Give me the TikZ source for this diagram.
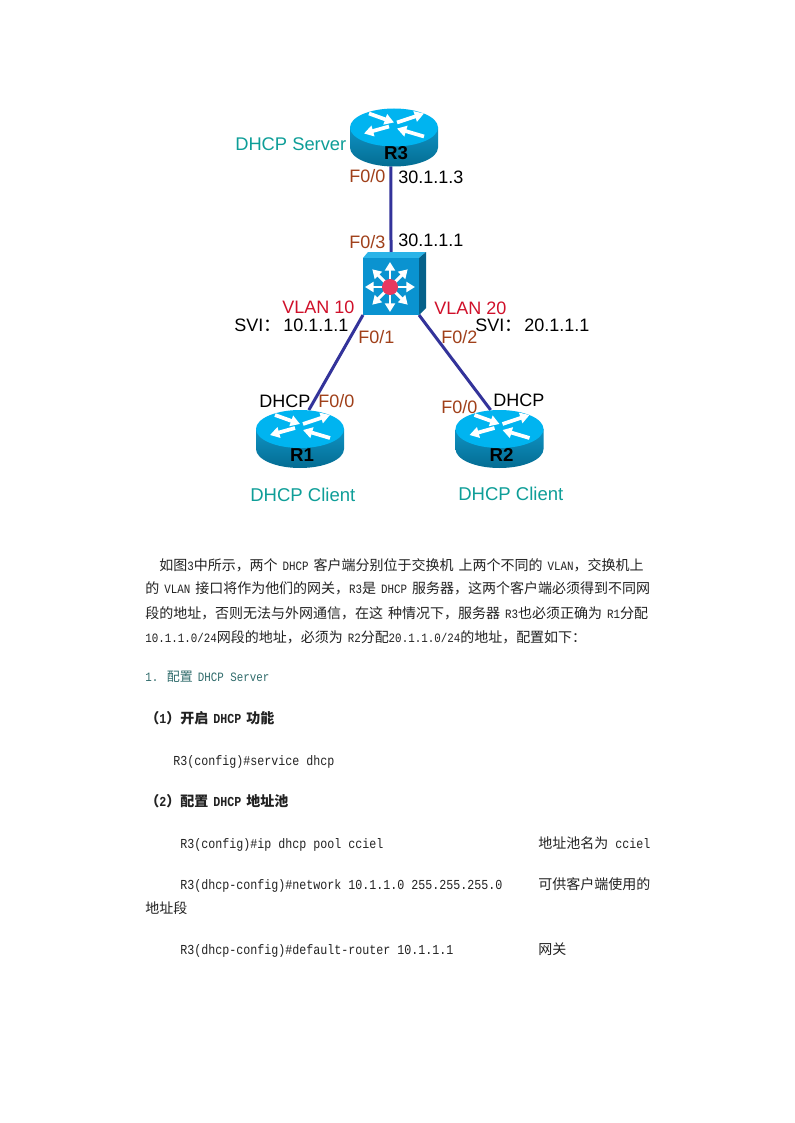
\documentclass[tikz,border=0pt]{standalone}
\usepackage{fontspec}
\setmainfont{Liberation Sans}
\newfontfamily\monofont{Liberation Mono}[FakeStretch=0.85]
\newfontfamily\cjkfont{Noto Sans CJK SC}[Scale=1.02]
\newfontfamily\cjkpara{Noto Sans CJK SC}[Scale=1.098]
\usetikzlibrary{positioning}
\usetikzlibrary{arrows.meta}
\definecolor{routertop}{HTML}{00B4F0}
\definecolor{routerhi}{HTML}{0F93C4}
\definecolor{routerlo}{HTML}{046C92}
\definecolor{swfront}{HTML}{0A93D0}
\definecolor{swtop}{HTML}{2BB4E8}
\definecolor{swside}{HTML}{05618A}
\definecolor{swdot}{HTML}{E8385F}
\definecolor{linkblue}{HTML}{33339A}
\definecolor{tealtext}{HTML}{0E9E98}
\definecolor{porttext}{HTML}{A0401A}
\definecolor{vlantext}{HTML}{D0102A}
\definecolor{headtext}{HTML}{2F6B6B}
\definecolor{bodytext}{HTML}{222222}
\newcommand{\zh}[1]{{\cjkfont #1}}
\newcommand{\zp}[1]{{\cjkpara #1}}
\newcommand{\gap}{\hspace{3.75pt}}
\tikzset{
  device/.style={inner sep=0pt, outer sep=0pt, minimum width=66pt, minimum height=43.5pt},
  switchbox/.style={inner sep=0pt, outer sep=0pt, minimum width=42pt, minimum height=47.25pt},
  link/.style={line width=2.25pt, linkblue},
  devlabel/.style={inner sep=0pt, xshift=1.5pt, font=\fontsize{14pt}{16pt}\selectfont\bfseries},
  lbl/.style={inner sep=0pt, anchor=base west, font=\fontsize{13.5pt}{16pt}\selectfont},
  tag/.style={lbl, tealtext, font=\fontsize{13.9pt}{16pt}\selectfont},
  port/.style={lbl, porttext},
  vlan/.style={lbl, vlantext},
  txt/.style={inner sep=0pt, anchor=base west, bodytext, font=\fontsize{10.3pt}{12pt}\selectfont\monofont},
  para/.style={txt, font=\fontsize{9.56pt}{12pt}\selectfont\monofont},
  stepline/.style={txt, font=\fontsize{10.3pt}{12pt}\selectfont\monofont\bfseries},
  rarrow/.style={white, line width=2.8pt, -{Triangle[length=7pt, width=8pt]}},
  sarrow/.style={white, line width=2.2pt, -{Triangle[length=6.5pt, width=7.5pt]}},
  router/.pic={
    \path[top color=routerhi, bottom color=routerlo] (-44,-10) -- (-44,10)
      arc[start angle=180, end angle=0, x radius=44, y radius=19] -- (44,-10) -- cycle;
    \fill[routertop] (0,-10) ellipse [x radius=44, y radius=19];
    \draw[rarrow] (-25,-24) -- (0,-15);
    \draw[rarrow] (3,-15) -- (30,-24);
    \draw[rarrow] (-5,-11) -- (-30,-4);
    \draw[rarrow] (30,-1) -- (3,-9);
  },
  l3switch/.pic={
    \fill[swtop] (-28,-25.5) -- (-23,-31.5) -- (35,-31.5) -- (28,-25.5) -- cycle;
    \fill[swside] (28,-25.5) -- (35,-31.5) -- (35,24.5) -- (28,31.5) -- cycle;
    \fill[swfront] (-28,-25.5) rectangle (28,31.5);
    \foreach \ang in {0,45,...,315}
      \draw[sarrow] (-1,3.5) -- ++(\ang:25);
    \fill[swdot] (-1,3.5) circle [radius=8];
  },
}
\begin{document}
\begin{tikzpicture}[x=0.75pt,y=-0.75pt]
\useasboundingbox (0,0) rectangle (794,1123);
\fill[white] (0,0) rectangle (794,1123);

\node[device] (R3) at (394,137.5) {};
\node[device] (R1) at (300,439) {};
\node[device] (R2) at (499.5,439) {};
\node[switchbox] (SW) at (391,283.5) {};

\draw[link] (R3.264) -- (SW.north);
\draw[link] (SW.south west) -- (R1.73);
\draw[link] (SW.south east) -- (R2.107);

\foreach \name in {R1,R2,R3} {
  \pic at (\name) {router};
  \node[devlabel, above=5pt of \name.south] (lbl\name) {\name};
}
\pic at (SW) {l3switch};

\node[tag, font=\fontsize{13.75pt}{16pt}\selectfont] (server) at (235,150.5) {DHCP Server};
\node[tag] (client1) at (250,501.5) {DHCP Client};
\node[tag] (client2) at (458,500.5) {DHCP Client};

\node[port] (r3port) at (349,182.5) {F0/0};
\node[lbl] (r3ip) at (398,183.5) {30.1.1.3};
\node[port] (swport3) at (349,248.5) {F0/3};
\node[lbl] (swip) at (398,246.5) {30.1.1.1};
\node[vlan] (vlan10) at (282,313.5) {VLAN 10};
\node[vlan] (vlan20) at (434,314.5) {VLAN 20};
\node[lbl] (svi10) at (234,331.5) {SVI{\fontsize{13.24pt}{14pt}\selectfont\zh{：}}\hspace{1.5pt}10.1.1.1};
\node[lbl] (svi20) at (475,331.5) {SVI{\fontsize{13.24pt}{14pt}\selectfont\zh{：}}\hspace{1.5pt}20.1.1.1};
\node[port] (swport1) at (358,343.5) {F0/1};
\node[port] (swport2) at (441,343.5) {F0/2};
\node[lbl] (dhcp1) at (259,407.5) {DHCP};
\node[port] (r1port) at (318,407.5) {F0/0};
\node[port] (r2port) at (441,413.5) {F0/0};
\node[lbl] (dhcp2) at (493,406.5) {DHCP};

\node[para] (para1) at (159,570) {\zp{如图}3\zp{中所示，两个}\gap DHCP\gap\zp{客户端分别位于交换机}\gap\zp{上两个不同的}\gap VLAN\zp{，交换机上}};
\node[para] (para2) at (145,593) {\zp{的}\gap VLAN\gap\zp{接口将作为他们的网关，}R3\zp{是}\gap DHCP\gap\zp{服务器，这两个客户端必须得到不同网}};
\node[para] (para3) at (145,618) {\zp{段的地址，否则无法与外网通信，在这}\gap\zp{种情况下，服务器}\gap R3\zp{也必须正确为}\gap R1\zp{分配}};
\node[para] (para4) at (145,642) {10.1.1.0/24\zp{网段的地址，必须为}\gap R2\zp{分配}20.1.1.0/24\zp{的地址，配置如下：}};

\node[txt, headtext, font=\fontsize{9.56pt}{12pt}\selectfont\monofont] (head1) at (145,681) {1. \zh{配置}\gap DHCP Server};
\node[stepline] (step1) at (145,723) {\zh{（}1\zh{）开启}\gap DHCP\gap\zh{功能}};
\node[txt] (cmd1) at (173,765) {R3(config)\#service dhcp};
\node[stepline] (step2) at (145,806) {\zh{（}2\zh{）配置}\gap DHCP\gap\zh{地址池}};
\node[txt] (cmd2) at (180,848) {R3(config)\#ip dhcp pool cciel};
\node[txt] (note2) at (538,848) {\zh{地址池名为} cciel};
\node[txt] (cmd3) at (180,889) {R3(dhcp-config)\#network 10.1.1.0 255.255.255.0};
\node[txt] (note3) at (538,889) {\zh{可供客户端使用的}};
\node[txt] (note3b) at (145,913) {\zh{地址段}};
\node[txt] (cmd4) at (180,954) {R3(dhcp-config)\#default-router 10.1.1.1};
\node[txt] (note4) at (538,954) {\zh{网关}};
\end{tikzpicture}
\end{document}
